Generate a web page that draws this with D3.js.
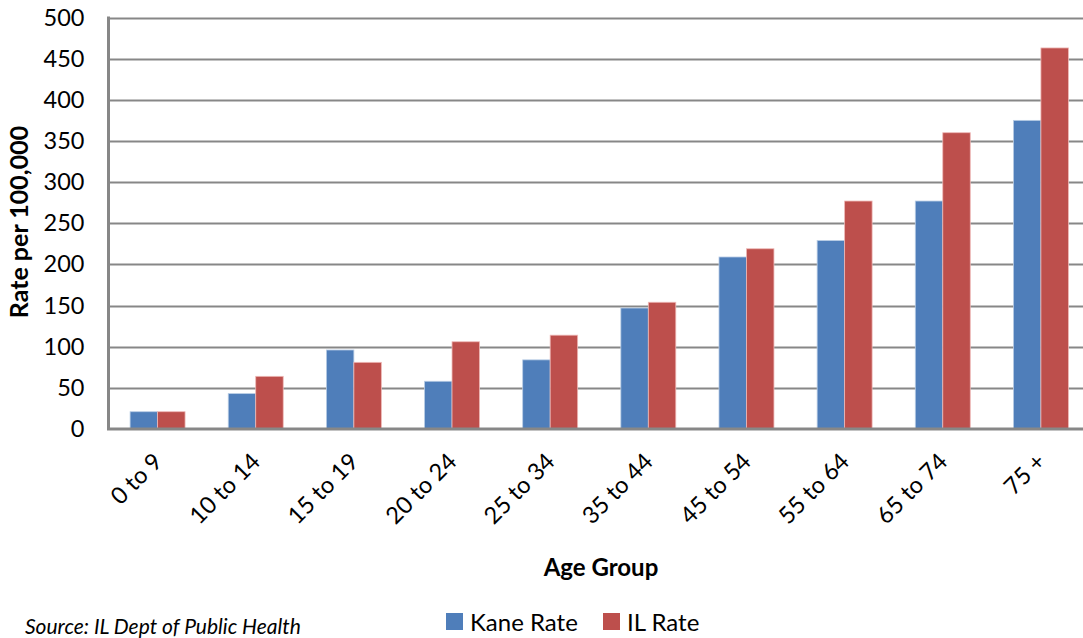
<!DOCTYPE html>
<html>
<head>
<meta charset="utf-8">
<script src="https://cdn.jsdelivr.net/npm/d3@7/dist/d3.min.js"></script>
<style>
  html, body { margin: 0; padding: 0; background: #fff; }
  svg { display: block; font-family: Lato, "Open Sans", "Liberation Sans", sans-serif; }
</style>
</head>
<body>
<svg id="chart" width="1083" height="638"></svg>
<script>
// Age groups and rates per 100,000
const ageGroups = ["0 to 9", "10 to 14", "15 to 19", "20 to 24", "25 to 34", "35 to 44", "45 to 54", "55 to 64", "65 to 74", "75 +"];
const kaneRate = [21, 43, 96, 58, 84, 147, 209, 229, 277, 375];
const ilRate   = [21, 64, 81, 106, 114, 154, 219, 277, 360, 463];
const seriesNames = ["Kane Rate", "IL Rate"];
const seriesColors = ["#4F7EBA", "#BD4F4C"];
const yTicks = [0, 50, 100, 150, 200, 250, 300, 350, 400, 450, 500];

const svg = d3.select("#chart");
const plot = { left: 108.5, right: 1090, top: 17.5, bottom: 429 };

const x = d3.scaleBand().domain(ageGroups).range([plot.left, plot.right])
  .paddingInner(0.44).paddingOuter(0.22);
const xInner = d3.scaleBand().domain(seriesNames).range([0, x.bandwidth()]);
const y = d3.scaleLinear().domain([0, 500]).range([plot.bottom, plot.top]);

// horizontal gridlines
svg.append("g").selectAll("line").data(yTicks.filter(t => t > 0)).join("line")
  .attr("x1", plot.left).attr("x2", plot.right)
  .attr("y1", d => Math.round(y(d)) + 0.5).attr("y2", d => Math.round(y(d)) + 0.5)
  .attr("stroke", "#878787").attr("stroke-width", 2);

// bars
const groups = svg.append("g").selectAll("g").data(ageGroups).join("g")
  .attr("transform", d => `translate(${x(d)},0)`);
groups.selectAll("rect")
  .data((d, i) => [kaneRate[i], ilRate[i]].map((v, k) => ({ v, k })))
  .join("rect")
  .attr("x", d => xInner(seriesNames[d.k]))
  .attr("width", xInner.bandwidth())
  .attr("y", d => y(d.v))
  .attr("height", d => y(0) - y(d.v))
  .attr("fill", d => seriesColors[d.k])
  .attr("stroke", d => d.k === 0 ? "#b9cde5" : "#eeb8b6")
  .attr("stroke-width", 0.8);

// y axis
const yAxis = svg.append("g").attr("transform", `translate(${plot.left},0)`)
  .call(d3.axisLeft(y).tickValues(yTicks).tickSize(0).tickPadding(24));
yAxis.select(".domain").attr("stroke", "#878787").attr("stroke-width", 3)
  .attr("d", `M0,${plot.top - 1}V${plot.bottom + 1}`);
yAxis.selectAll("text").attr("font-size", 23.5).attr("fill", "#000")
  .attr("font-family", "Lato, sans-serif");

// x axis
const xAxis = svg.append("g").attr("transform", `translate(0,${plot.bottom})`)
  .call(d3.axisBottom(x).tickSize(0));
xAxis.select(".domain").attr("stroke", "#878787").attr("stroke-width", 3)
  .attr("d", `M${plot.left - 1.5},0H${plot.right}`);
xAxis.selectAll("text")
  .attr("font-size", 23.5).attr("fill", "#000").attr("font-family", "Lato, sans-serif")
  .attr("text-anchor", "end").attr("dy", 0).attr("y", 0)
  .attr("transform", "translate(6,34) rotate(-45)");

// axis titles
svg.append("text").attr("transform", "translate(28,222) rotate(-90)")
  .attr("text-anchor", "middle").attr("font-weight", "bold").attr("font-size", 25)
  .text("Rate per 100,000");
svg.append("text").attr("x", 601).attr("y", 576)
  .attr("text-anchor", "middle").attr("font-weight", "bold").attr("font-size", 24)
  .text("Age Group");

// legend
const legend = svg.append("g");
const legendX = [446, 603];
seriesNames.forEach((name, i) => {
  legend.append("rect").attr("x", legendX[i]).attr("y", 613).attr("width", 17).attr("height", 17)
    .attr("fill", seriesColors[i]);
  legend.append("text").attr("x", legendX[i] + 24).attr("y", 631)
    .attr("font-size", 24).text(name);
});

// source note
svg.append("text").attr("x", 25).attr("y", 634)
  .attr("font-size", 21).attr("font-style", "italic")
  .text("Source: IL Dept of Public Health");
</script>
</body>
</html>
